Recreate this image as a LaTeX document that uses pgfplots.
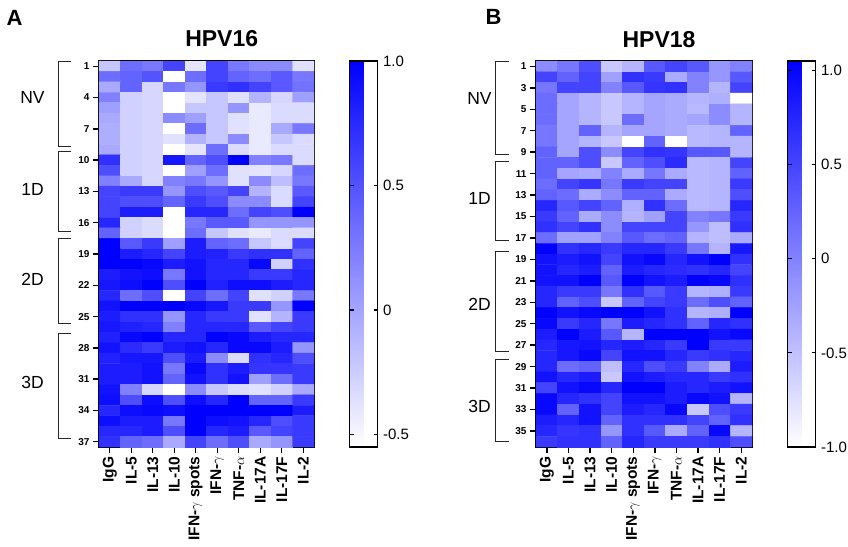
\documentclass[border=0pt]{standalone}
\usepackage{fontspec}
\setmainfont{Liberation Sans}
\usepackage{pgfplots}
\pgfplotsset{compat=1.18}

\pgfplotsset{
  hm/.style={
    scale only axis, height=386pt,
    xmin=-0.5, xmax=9.5, ymin=0.5, y dir=reverse,
    axis line style={line width=1.6pt},
    xtick={0,...,9},
    xticklabels={IgG,IL-5,IL-13,IL-10,IFN-$\gamma$ spots,IFN-$\gamma$,TNF-$\alpha$,IL-17A,IL-17F,IL-2},
    xticklabel style={rotate=90, anchor=east, font=\fontsize{15.5}{16}\selectfont\bfseries},
    yticklabel style={font=\fontsize{10}{10}\selectfont\bfseries, /pgf/number format/assume math mode=true},
    xtick pos=bottom, ytick pos=left, tick align=outside,
    major tick length=6pt, tick style={line width=1.4pt, black},
    colormap={wb}{rgb255=(255,255,255) rgb255=(0,0,255)},
    colorbar,
    clip=false,
  },
  cb/.style={colorbar style={
    scale only axis, width=28pt,
    at={(parent axis.north east)}, anchor=north west, xshift=27pt,
    axis line style={line width=1.4pt},
    yticklabel pos=right, ytick pos=both, tick align=inside,
    major tick length=4pt, tick style={line width=1.2pt, black},
    yticklabel style={font=\fontsize{15}{15}\selectfont, xshift=2pt},
  }},
}

\begin{document}
\begin{tikzpicture}[x=1pt,y=1pt]
\path (0,0) rectangle (848,546);

% panel A
\node at (14.5,528) {\fontsize{22}{22}\selectfont\bfseries A};
\node at (221.7,507.5) {\fontsize{23}{23}\selectfont\bfseries HPV16};
\begin{axis}[hm, cb, at={(99pt,99pt)}, anchor=south west, width=215pt,
  ymax=37.5, ytick={1,4,...,37},
  point meta min=-0.55, point meta max=1.0,
  colorbar style={ytick={-0.5,0,0.5,1}, yticklabels={-0.5,0,0.5,1.0}}]
\addplot[matrix plot*, mesh/cols=10, point meta=explicit] coordinates {
(0,1)[-0.21] (1,1)[0.33] (2,1)[0.27] (3,1)[0.58] (4,1)[-0.39] (5,1)[0.58] (6,1)[0.27] (7,1)[0.15] (8,1)[0.15] (9,1)[-0.36]
(0,2)[0.33] (1,2)[0.39] (2,2)[0.48] (3,2)[-0.55] (4,2)[0.33] (5,2)[0.58] (6,2)[0.39] (7,2)[0.33] (8,2)[0.45] (9,2)[0.27]
(0,3)[-0.03] (1,3)[0.39] (2,3)[-0.30] (3,3)[0.27] (4,3)[0.09] (5,3)[0.64] (6,3)[0.70] (7,3)[0.58] (8,3)[0.45] (9,3)[0.30]
(0,4)[0.21] (1,4)[-0.27] (2,4)[-0.30] (3,4)[-0.55] (4,4)[-0.39] (5,4)[-0.21] (6,4)[-0.36] (7,4)[-0.09] (8,4)[-0.30] (9,4)[0.03]
(0,5)[0.03] (1,5)[-0.27] (2,5)[-0.30] (3,5)[-0.55] (4,5)[-0.21] (5,5)[-0.21] (6,5)[0.09] (7,5)[-0.42] (8,5)[-0.33] (9,5)[-0.33]
(0,6)[-0.03] (1,6)[-0.27] (2,6)[-0.30] (3,6)[0.15] (4,6)[0.03] (5,6)[-0.21] (6,6)[-0.36] (7,6)[-0.42] (8,6)[-0.33] (9,6)[-0.33]
(0,7)[-0.06] (1,7)[-0.27] (2,7)[-0.30] (3,7)[-0.55] (4,7)[0.33] (5,7)[-0.21] (6,7)[-0.36] (7,7)[-0.42] (8,7)[-0.03] (9,7)[0.27]
(0,8)[-0.06] (1,8)[-0.27] (2,8)[-0.30] (3,8)[-0.36] (4,8)[-0.09] (5,8)[-0.21] (6,8)[0.15] (7,8)[-0.42] (8,8)[-0.21] (9,8)[-0.33]
(0,9)[-0.03] (1,9)[-0.27] (2,9)[-0.30] (3,9)[-0.55] (4,9)[-0.39] (5,9)[0.33] (6,9)[-0.33] (7,9)[-0.42] (8,9)[-0.33] (9,9)[-0.33]
(0,10)[0.70] (1,10)[-0.27] (2,10)[-0.30] (3,10)[0.85] (4,10)[0.39] (5,10)[0.52] (6,10)[1.00] (7,10)[0.21] (8,10)[0.27] (9,10)[-0.33]
(0,11)[0.52] (1,11)[-0.27] (2,11)[-0.30] (3,11)[-0.55] (4,11)[0.03] (5,11)[0.33] (6,11)[-0.36] (7,11)[-0.39] (8,11)[-0.30] (9,11)[0.33]
(0,12)[0.21] (1,12)[-0.03] (2,12)[-0.30] (3,12)[0.21] (4,12)[0.27] (5,12)[0.09] (6,12)[-0.36] (7,12)[0.15] (8,12)[-0.15] (9,12)[0.27]
(0,13)[0.58] (1,13)[0.64] (2,13)[0.64] (3,13)[0.09] (4,13)[0.52] (5,13)[0.45] (6,13)[0.58] (7,13)[-0.09] (8,13)[-0.33] (9,13)[0.45]
(0,14)[0.58] (1,14)[0.52] (2,14)[0.52] (3,14)[0.39] (4,14)[0.64] (5,14)[0.52] (6,14)[0.15] (7,14)[0.15] (8,14)[-0.33] (9,14)[0.58]
(0,15)[0.58] (1,15)[0.82] (2,15)[0.82] (3,15)[-0.55] (4,15)[0.76] (5,15)[0.76] (6,15)[0.33] (7,15)[0.58] (8,15)[0.52] (9,15)[1.00]
(0,16)[0.76] (1,16)[-0.27] (2,16)[-0.33] (3,16)[-0.55] (4,16)[0.27] (5,16)[0.45] (6,16)[0.45] (7,16)[0.09] (8,16)[0.09] (9,16)[0.09]
(0,17)[0.39] (1,17)[-0.27] (2,17)[-0.33] (3,17)[-0.55] (4,17)[0.33] (5,17)[-0.21] (6,17)[-0.36] (7,17)[-0.42] (8,17)[-0.33] (9,17)[-0.33]
(0,18)[1.00] (1,18)[0.45] (2,18)[0.64] (3,18)[0.03] (4,18)[0.82] (5,18)[0.39] (6,18)[0.33] (7,18)[-0.21] (8,18)[-0.33] (9,18)[0.58]
(0,19)[1.00] (1,19)[0.82] (2,19)[0.76] (3,19)[0.58] (4,19)[0.82] (5,19)[0.79] (6,19)[0.64] (7,19)[0.70] (8,19)[0.70] (9,19)[0.39]
(0,20)[1.00] (1,20)[1.00] (2,20)[0.94] (3,20)[0.82] (4,20)[0.88] (5,20)[0.76] (6,20)[0.76] (7,20)[0.94] (8,20)[-0.27] (9,20)[0.70]
(0,21)[0.82] (1,21)[0.88] (2,21)[0.91] (3,21)[0.27] (4,21)[0.88] (5,21)[0.76] (6,21)[0.76] (7,21)[0.64] (8,21)[0.64] (9,21)[0.76]
(0,22)[0.85] (1,22)[0.91] (2,22)[1.00] (3,22)[0.52] (4,22)[1.00] (5,22)[0.79] (6,22)[0.91] (7,22)[0.91] (8,22)[0.82] (9,22)[0.76]
(0,23)[0.76] (1,23)[0.33] (2,23)[0.52] (3,23)[-0.55] (4,23)[0.58] (5,23)[0.33] (6,23)[0.58] (7,23)[-0.36] (8,23)[-0.27] (9,23)[0.27]
(0,24)[0.88] (1,24)[1.00] (2,24)[1.00] (3,24)[1.00] (4,24)[0.94] (5,24)[0.85] (6,24)[0.64] (7,24)[0.64] (8,24)[0.09] (9,24)[1.00]
(0,25)[0.82] (1,25)[0.70] (2,25)[0.70] (3,25)[0.09] (4,25)[0.76] (5,25)[0.64] (6,25)[0.64] (7,25)[-0.36] (8,25)[-0.09] (9,25)[0.64]
(0,26)[0.85] (1,26)[0.79] (2,26)[0.76] (3,26)[0.21] (4,26)[0.76] (5,26)[0.76] (6,26)[0.76] (7,26)[0.45] (8,26)[0.58] (9,26)[0.64]
(0,27)[0.79] (1,27)[0.94] (2,27)[1.00] (3,27)[0.76] (4,27)[0.76] (5,27)[1.00] (6,27)[0.94] (7,27)[0.82] (8,27)[0.76] (9,27)[0.76]
(0,28)[0.88] (1,28)[0.73] (2,28)[0.64] (3,28)[0.82] (4,28)[0.88] (5,28)[0.76] (6,28)[0.94] (7,28)[0.94] (8,28)[0.82] (9,28)[0.09]
(0,29)[0.79] (1,29)[0.85] (2,29)[0.85] (3,29)[0.52] (4,29)[0.82] (5,29)[0.15] (6,29)[-0.33] (7,29)[0.70] (8,29)[0.76] (9,29)[0.52]
(0,30)[0.82] (1,30)[0.82] (2,30)[0.88] (3,30)[0.27] (4,30)[0.94] (5,30)[0.70] (6,30)[0.82] (7,30)[0.67] (8,30)[0.67] (9,30)[0.64]
(0,31)[0.82] (1,31)[0.82] (2,31)[0.88] (3,31)[0.39] (4,31)[0.88] (5,31)[0.70] (6,31)[0.88] (7,31)[0.03] (8,31)[0.33] (9,31)[0.64]
(0,32)[0.88] (1,32)[0.21] (2,32)[-0.30] (3,32)[-0.55] (4,32)[0.15] (5,32)[-0.21] (6,32)[-0.33] (7,32)[-0.36] (8,32)[-0.27] (9,32)[-0.03]
(0,33)[0.91] (1,33)[0.52] (2,33)[0.91] (3,33)[0.52] (4,33)[0.91] (5,33)[0.76] (6,33)[1.00] (7,33)[0.39] (8,33)[0.39] (9,33)[0.64]
(0,34)[0.76] (1,34)[0.91] (2,34)[0.94] (3,34)[0.91] (4,34)[1.00] (5,34)[1.00] (6,34)[1.00] (7,34)[1.00] (8,34)[1.00] (9,34)[0.82]
(0,35)[0.91] (1,35)[0.82] (2,35)[0.82] (3,35)[0.27] (4,35)[1.00] (5,35)[0.91] (6,35)[0.88] (7,35)[0.76] (8,35)[0.52] (9,35)[0.64]
(0,36)[0.76] (1,36)[0.76] (2,36)[0.82] (3,36)[0.52] (4,36)[1.00] (5,36)[0.76] (6,36)[0.82] (7,36)[0.45] (8,36)[0.58] (9,36)[0.64]
(0,37)[0.70] (1,37)[0.39] (2,37)[0.33] (3,37)[-0.03] (4,37)[0.58] (5,37)[0.33] (6,37)[0.52] (7,37)[-0.03] (8,37)[0.09] (9,37)[0.64]
};
% group brackets
\draw[line width=0.9pt, black!85] ([xshift=-28pt]axis cs:-0.5,0.52) -- ([xshift=-41pt]axis cs:-0.5,0.52) -- ([xshift=-41pt]axis cs:-0.5,8.65) -- ([xshift=-28pt]axis cs:-0.5,8.65);
\draw[line width=0.9pt, black!85] ([xshift=-28pt]axis cs:-0.5,9.15) -- ([xshift=-41pt]axis cs:-0.5,9.15) -- ([xshift=-41pt]axis cs:-0.5,16.88) -- ([xshift=-28pt]axis cs:-0.5,16.88);
\draw[line width=0.9pt, black!85] ([xshift=-28pt]axis cs:-0.5,17.49) -- ([xshift=-41pt]axis cs:-0.5,17.49) -- ([xshift=-41pt]axis cs:-0.5,25.65) -- ([xshift=-28pt]axis cs:-0.5,25.65);
\draw[line width=0.9pt, black!85] ([xshift=-28pt]axis cs:-0.5,26.58) -- ([xshift=-41pt]axis cs:-0.5,26.58) -- ([xshift=-41pt]axis cs:-0.5,36.65) -- ([xshift=-28pt]axis cs:-0.5,36.65);
\node[font=\fontsize{17.5}{18}\selectfont] at ([xshift=-66.5pt]axis cs:-0.5,4.0) {NV};
\node[font=\fontsize{17.5}{18}\selectfont] at ([xshift=-66.5pt]axis cs:-0.5,12.8) {1D};
\node[font=\fontsize{17.5}{18}\selectfont] at ([xshift=-66.5pt]axis cs:-0.5,21.4) {2D};
\node[font=\fontsize{17.5}{18}\selectfont] at ([xshift=-66.5pt]axis cs:-0.5,31.3) {3D};
\end{axis}

% panel B
\node at (493.5,529) {\fontsize{22}{22}\selectfont\bfseries B};
\node at (659,506) {\fontsize{23}{23}\selectfont\bfseries HPV18};
\begin{axis}[hm, cb, at={(536pt,99pt)}, anchor=south west, width=216pt,
  ymax=36.5, ytick={1,3,...,35},
  point meta min=-1.0, point meta max=1.05,
  colorbar style={ytick={-1,-0.5,0,0.5,1}, yticklabels={-1.0,-0.5,0,0.5,1.0}}]
\addplot[matrix plot*, mesh/cols=10, point meta=explicit] coordinates {
(0,1)[-0.08] (1,1)[0.09] (2,1)[0.41] (3,1)[-0.56] (4,1)[-0.40] (5,1)[0.33] (6,1)[0.49] (7,1)[0.33] (8,1)[-0.16] (9,1)[0.00]
(0,2)[0.49] (1,2)[0.25] (2,2)[0.49] (3,2)[-0.24] (4,2)[0.65] (5,2)[0.57] (6,2)[-0.32] (7,2)[0.00] (8,2)[-0.16] (9,2)[0.33]
(0,3)[0.09] (1,3)[0.49] (2,3)[0.49] (3,3)[0.00] (4,3)[0.33] (5,3)[0.61] (6,3)[0.65] (7,3)[0.00] (8,3)[-0.40] (9,3)[0.49]
(0,4)[0.17] (1,4)[-0.28] (2,4)[-0.40] (3,4)[-0.56] (4,4)[-0.40] (5,4)[-0.28] (6,4)[-0.32] (7,4)[-0.40] (8,4)[-0.36] (9,4)[-1.00]
(0,5)[0.17] (1,5)[-0.28] (2,5)[-0.40] (3,5)[-0.56] (4,5)[-0.40] (5,5)[-0.28] (6,5)[-0.32] (7,5)[-0.44] (8,5)[-0.08] (9,5)[-0.40]
(0,6)[0.17] (1,6)[-0.28] (2,6)[-0.40] (3,6)[-0.56] (4,6)[0.17] (5,6)[-0.28] (6,6)[-0.32] (7,6)[-0.28] (8,6)[-0.08] (9,6)[-0.40]
(0,7)[0.09] (1,7)[-0.28] (2,7)[0.25] (3,7)[-0.40] (4,7)[-0.28] (5,7)[-0.28] (6,7)[-0.32] (7,7)[-0.44] (8,7)[-0.40] (9,7)[0.25]
(0,8)[0.09] (1,8)[-0.28] (2,8)[-0.40] (3,8)[-0.56] (4,8)[-1.00] (5,8)[0.25] (6,8)[-1.00] (7,8)[-0.44] (8,8)[-0.40] (9,8)[-0.40]
(0,9)[0.25] (1,9)[-0.28] (2,9)[0.41] (3,9)[-0.08] (4,9)[0.49] (5,9)[0.65] (6,9)[0.61] (7,9)[0.33] (8,9)[0.33] (9,9)[-0.40]
(0,10)[0.25] (1,10)[0.25] (2,10)[0.41] (3,10)[-0.56] (4,10)[0.25] (5,10)[0.41] (6,10)[0.69] (7,10)[-0.44] (8,10)[-0.40] (9,10)[0.49]
(0,11)[0.25] (1,11)[-0.28] (2,11)[-0.32] (3,11)[0.00] (4,11)[-0.32] (5,11)[0.09] (6,11)[-0.32] (7,11)[-0.44] (8,11)[-0.40] (9,11)[0.25]
(0,12)[0.17] (1,12)[0.49] (2,12)[0.61] (3,12)[0.09] (4,12)[0.57] (5,12)[0.49] (6,12)[0.49] (7,12)[-0.44] (8,12)[-0.40] (9,12)[0.57]
(0,13)[0.25] (1,13)[0.17] (2,13)[-0.32] (3,13)[-0.08] (4,13)[0.25] (5,13)[0.25] (6,13)[-0.32] (7,13)[-0.44] (8,13)[-0.40] (9,13)[0.41]
(0,14)[0.73] (1,14)[0.33] (2,14)[0.49] (3,14)[0.25] (4,14)[-0.36] (5,14)[0.65] (6,14)[0.17] (7,14)[-0.44] (8,14)[-0.40] (9,14)[0.73]
(0,15)[0.57] (1,15)[0.25] (2,15)[-0.32] (3,15)[-0.08] (4,15)[-0.40] (5,15)[-0.24] (6,15)[0.49] (7,15)[0.00] (8,15)[0.09] (9,15)[0.57]
(0,16)[0.65] (1,16)[0.49] (2,16)[0.65] (3,16)[-0.08] (4,16)[0.49] (5,16)[0.49] (6,16)[0.49] (7,16)[-0.16] (8,16)[-0.48] (9,16)[0.65]
(0,17)[0.17] (1,17)[-0.24] (2,17)[-0.24] (3,17)[0.00] (4,17)[0.33] (5,17)[0.17] (6,17)[0.25] (7,17)[-0.40] (8,17)[-0.48] (9,17)[-0.32]
(0,18)[1.05] (1,18)[0.65] (2,18)[0.73] (3,18)[0.57] (4,18)[0.73] (5,18)[0.73] (6,18)[0.57] (7,18)[0.09] (8,18)[-0.40] (9,18)[0.85]
(0,19)[0.89] (1,19)[0.81] (2,19)[0.89] (3,19)[0.49] (4,19)[0.89] (5,19)[0.97] (6,19)[0.73] (7,19)[0.89] (8,19)[1.05] (9,19)[0.65]
(0,20)[0.89] (1,20)[0.73] (2,20)[0.81] (3,20)[0.25] (4,20)[0.81] (5,20)[0.73] (6,20)[0.69] (7,20)[0.65] (8,20)[0.73] (9,20)[0.49]
(0,21)[0.89] (1,21)[0.89] (2,21)[1.05] (3,21)[0.33] (4,21)[1.05] (5,21)[0.89] (6,21)[0.81] (7,21)[1.05] (8,21)[0.97] (9,21)[0.65]
(0,22)[0.73] (1,22)[0.57] (2,22)[0.57] (3,22)[0.09] (4,22)[0.65] (5,22)[0.33] (6,22)[0.57] (7,22)[-0.40] (8,22)[-0.36] (9,22)[0.57]
(0,23)[0.73] (1,23)[0.25] (2,23)[0.41] (3,23)[-0.56] (4,23)[0.25] (5,23)[0.49] (6,23)[0.57] (7,23)[0.17] (8,23)[0.41] (9,23)[0.25]
(0,24)[1.05] (1,24)[0.89] (2,24)[0.97] (3,24)[1.05] (4,24)[1.05] (5,24)[0.89] (6,24)[0.65] (7,24)[-0.40] (8,24)[-0.36] (9,24)[1.05]
(0,25)[0.97] (1,25)[0.57] (2,25)[0.73] (3,25)[0.09] (4,25)[0.81] (5,25)[0.73] (6,25)[0.65] (7,25)[0.25] (8,25)[0.73] (9,25)[0.65]
(0,26)[0.81] (1,26)[1.05] (2,26)[0.81] (3,26)[0.33] (4,26)[-0.40] (5,26)[1.05] (6,26)[1.05] (7,26)[1.05] (8,26)[0.89] (9,26)[0.97]
(0,27)[0.73] (1,27)[0.85] (2,27)[0.89] (3,27)[0.73] (4,27)[0.81] (5,27)[0.73] (6,27)[0.57] (7,27)[1.05] (8,27)[0.57] (9,27)[0.57]
(0,28)[0.73] (1,28)[0.85] (2,28)[0.97] (3,28)[0.49] (4,28)[0.89] (5,28)[0.89] (6,28)[0.73] (7,28)[0.57] (8,28)[0.65] (9,28)[0.73]
(0,29)[0.73] (1,29)[0.17] (2,29)[0.25] (3,29)[-0.48] (4,29)[0.73] (5,29)[0.41] (6,29)[0.57] (7,29)[0.00] (8,29)[-0.32] (9,29)[0.81]
(0,30)[0.89] (1,30)[0.73] (2,30)[0.81] (3,30)[-0.56] (4,30)[0.89] (5,30)[0.81] (6,30)[0.73] (7,30)[0.73] (8,30)[0.57] (9,30)[0.65]
(0,31)[0.49] (1,31)[0.89] (2,31)[0.97] (3,31)[0.73] (4,31)[1.05] (5,31)[1.05] (6,31)[0.81] (7,31)[0.73] (8,31)[0.81] (9,31)[0.89]
(0,32)[0.97] (1,32)[0.73] (2,32)[0.65] (3,32)[0.49] (4,32)[0.89] (5,32)[0.89] (6,32)[0.81] (7,32)[0.97] (8,32)[0.89] (9,32)[-0.40]
(0,33)[0.97] (1,33)[0.25] (2,33)[0.89] (3,33)[0.49] (4,33)[0.81] (5,33)[0.73] (6,33)[0.97] (7,33)[-0.56] (8,33)[0.41] (9,33)[0.57]
(0,34)[0.81] (1,34)[0.73] (2,34)[0.89] (3,34)[0.25] (4,34)[0.65] (5,34)[0.65] (6,34)[0.65] (7,34)[0.49] (8,34)[0.25] (9,34)[0.65]
(0,35)[0.73] (1,35)[0.61] (2,35)[0.65] (3,35)[-0.16] (4,35)[0.65] (5,35)[0.33] (6,35)[-0.32] (7,35)[0.25] (8,35)[0.97] (9,35)[-0.40]
(0,36)[0.57] (1,36)[0.65] (2,36)[0.65] (3,36)[0.25] (4,36)[0.73] (5,36)[0.57] (6,36)[0.57] (7,36)[0.57] (8,36)[0.65] (9,36)[0.41]
};
\draw[line width=0.9pt, black!85] ([xshift=-27.5pt]axis cs:-0.5,0.53) -- ([xshift=-41pt]axis cs:-0.5,0.53) -- ([xshift=-41pt]axis cs:-0.5,9.2) -- ([xshift=-27.5pt]axis cs:-0.5,9.2);
\draw[line width=0.9pt, black!85] ([xshift=-27.5pt]axis cs:-0.5,9.85) -- ([xshift=-41pt]axis cs:-0.5,9.85) -- ([xshift=-41pt]axis cs:-0.5,17.24) -- ([xshift=-27.5pt]axis cs:-0.5,17.24);
\draw[line width=0.9pt, black!85] ([xshift=-27.5pt]axis cs:-0.5,18.25) -- ([xshift=-41pt]axis cs:-0.5,18.25) -- ([xshift=-41pt]axis cs:-0.5,27.6) -- ([xshift=-27.5pt]axis cs:-0.5,27.6);
\draw[line width=0.9pt, black!85] ([xshift=-27.5pt]axis cs:-0.5,28.3) -- ([xshift=-41pt]axis cs:-0.5,28.3) -- ([xshift=-41pt]axis cs:-0.5,36.0) -- ([xshift=-27.5pt]axis cs:-0.5,36.0);
\node[font=\fontsize{17.5}{18}\selectfont] at ([xshift=-56.5pt]axis cs:-0.5,4.0) {NV};
\node[font=\fontsize{17.5}{18}\selectfont] at ([xshift=-56.5pt]axis cs:-0.5,13.3) {1D};
\node[font=\fontsize{17.5}{18}\selectfont] at ([xshift=-56.5pt]axis cs:-0.5,23.2) {2D};
\node[font=\fontsize{17.5}{18}\selectfont] at ([xshift=-56.5pt]axis cs:-0.5,32.7) {3D};
\end{axis}

\pgfresetboundingbox
\path (0,0) rectangle (848,546);
\end{tikzpicture}
\end{document}
